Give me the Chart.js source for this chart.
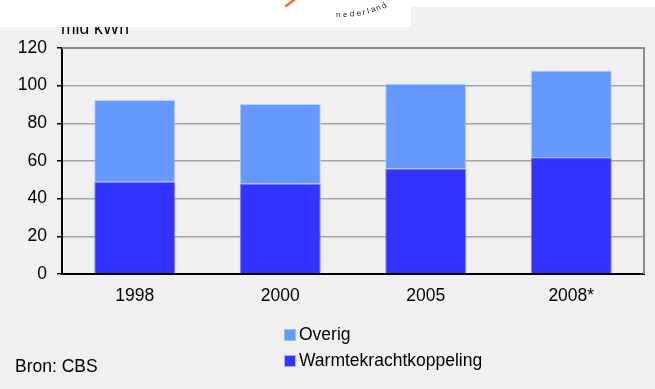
<!DOCTYPE html>
<html>
<head>
<meta charset="utf-8">
<script src="https://cdn.jsdelivr.net/npm/chart.js@4"></script>
<style>
  html, body { margin: 0; padding: 0; background: #f0f0f0; }
  #wrap { width: 655px; height: 389px; position: relative; }
</style>
</head>
<body>
<div id="wrap"><canvas id="c" width="655" height="389"></canvas></div>
<script>
// values (mld kWh)
const years = ["1998", "2000", "2005", "2008*"];
const warmtekracht = [49, 48, 56, 62];
const overig = [43.4, 42.2, 45, 46];
const yTicks = [0, 20, 40, 60, 80, 100, 120];

const FONT = "'Liberation Sans', Arial, sans-serif";
const FS = 17.5;
const C_OVERIG = "#6699ff", C_WKK = "#3333ff";

// frame, y-title, legend, source and the white header strip with the logo
const decor = {
  id: "decor",
  beforeDraw(chart) {
    const ctx = chart.ctx;
    ctx.save();
    ctx.fillStyle = "#f0f0f0";
    ctx.fillRect(0, 0, chart.width, chart.height);
    ctx.restore();
  },
  afterDraw(chart) {
    const ctx = chart.ctx, a = chart.chartArea;
    ctx.save();
    // right + top frame in grey
    ctx.strokeStyle = "#8c8c8c"; ctx.lineWidth = 2;
    ctx.beginPath();
    ctx.moveTo(a.left, a.top); ctx.lineTo(a.right, a.top); ctx.lineTo(a.right, a.bottom);
    ctx.stroke();

    ctx.fillStyle = "#000";
    ctx.font = FS + "px " + FONT;
    ctx.textBaseline = "alphabetic";
    ctx.fillText("mld kWh", 61, 34);
    ctx.textBaseline = "middle";
    ctx.fillText("Bron: CBS", 15, 367);

    // legend (top dataset first)
    const items = [chart.data.datasets[1], chart.data.datasets[0]];
    items.forEach((ds, i) => {
      const y = 335 + i * 26;
      ctx.fillStyle = ds.backgroundColor;
      ctx.fillRect(284, y - 6, 12, 12);
      ctx.strokeStyle = "rgba(170,190,255,0.9)"; ctx.lineWidth = 1;
      ctx.strokeRect(284.5, y - 5.5, 11, 11);
      ctx.fillStyle = "#000";
      ctx.fillText(ds.label, 299, y);
    });

    // white header strip (cuts the top of the unit label)
    ctx.fillStyle = "#fff";
    ctx.fillRect(0, 0, 411, 27);
    ctx.fillRect(411, 0, 244, 7);
    // logo fragment
    ctx.strokeStyle = "#f07020"; ctx.lineWidth = 2.5; ctx.lineCap = "round";
    ctx.beginPath(); ctx.moveTo(294, 0); ctx.lineTo(286, 6); ctx.stroke();
    const word = "nederland";
    const pos = [[336, 17, 0], [343, 17, 0], [350, 16.6, -0.05], [357, 16, -0.1], [363, 15, -0.2],
                 [368, 13.8, -0.3], [372, 12.6, -0.4], [377.5, 11, -0.5], [383.5, 9, -0.6]];
    ctx.fillStyle = "#222"; ctx.font = "8px " + FONT; ctx.textBaseline = "alphabetic";
    pos.forEach((p, i) => {
      ctx.save(); ctx.translate(p[0], p[1]); ctx.rotate(p[2]);
      ctx.fillText(word[i], 0, 0); ctx.restore();
    });
    ctx.restore();
  },
};

new Chart(document.getElementById("c"), {
  type: "bar",
  data: {
    labels: years,
    datasets: [
      { label: "Warmtekrachtkoppeling", data: warmtekracht, backgroundColor: C_WKK,
        borderColor: "rgba(110,125,255,0.9)", borderWidth: 1 },
      { label: "Overig", data: overig, backgroundColor: C_OVERIG,
        borderColor: "rgba(180,205,255,0.9)", borderWidth: 1 },
    ],
  },
  options: {
    responsive: false, animation: false,
    layout: { padding: { top: 48, right: 11, left: 0, bottom: 0 } },
    datasets: { bar: { categoryPercentage: 1, barPercentage: 0.557 } },
    plugins: { legend: { display: false }, tooltip: { enabled: false } },
    scales: {
      x: {
        stacked: true,
        grid: { display: false, drawTicks: false },
        border: { color: "#000", width: 2 },
        ticks: { color: "#000", font: { family: FONT, size: FS }, padding: 12 },
        afterFit(s) { s.height = 115; },
      },
      y: {
        stacked: true, min: 0, max: 120,
        afterBuildTicks(s) { s.ticks = yTicks.map(v => ({ value: v })); },
        grid: { color: "#a4a4a4", lineWidth: 1.5, tickColor: "#000", tickLength: 5 },
        border: { color: "#000", width: 2 },
        ticks: { color: "#000", font: { family: FONT, size: FS }, padding: 10 },
        afterFit(s) { s.width = 62; },
      },
    },
  },
  plugins: [decor],
});
</script>
</body>
</html>
